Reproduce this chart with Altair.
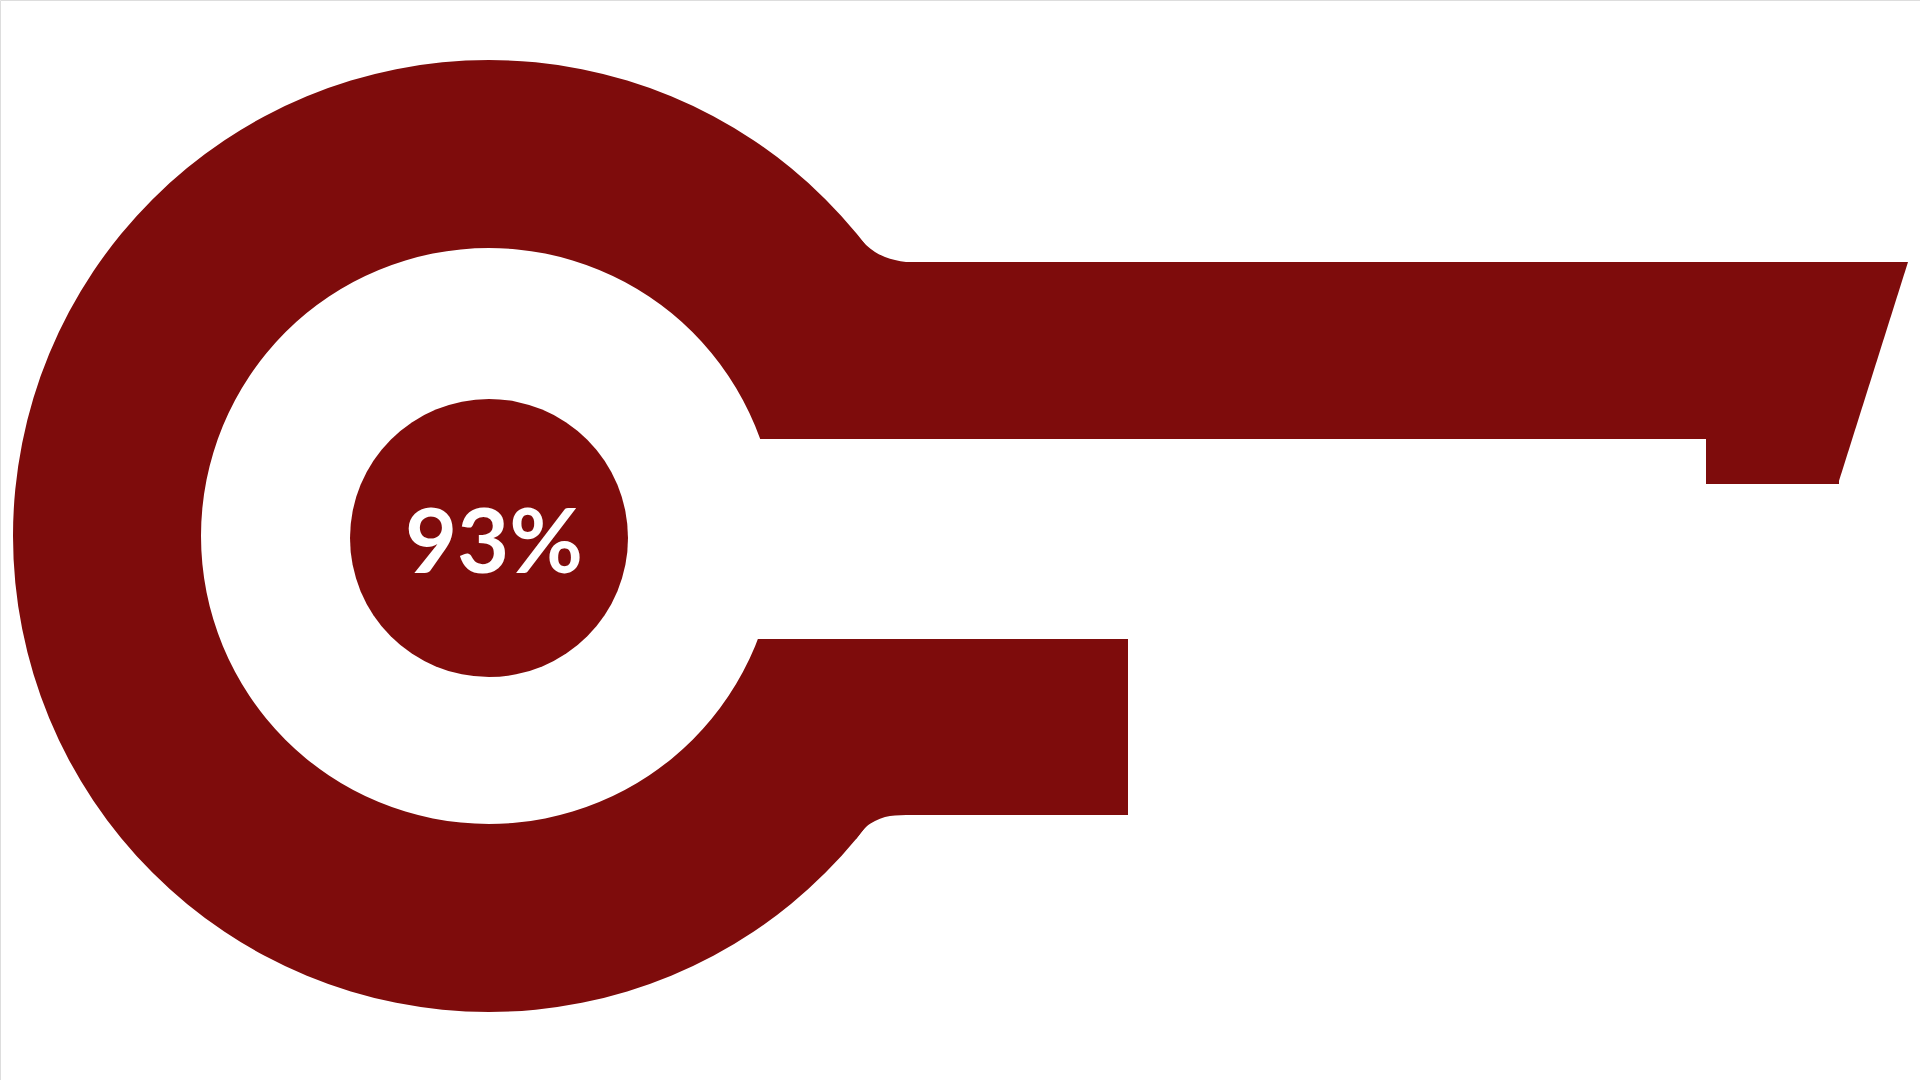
import altair as alt
import pandas as pd

# ---- values (pixel space of a 1920x1080 canvas) ----
VALUE = 93
RING_CENTER_X = [489]
RING_CENTER_Y = [536]
DOT_CENTER_X = [489]
DOT_CENTER_Y = [538]

# gap in the ring between the two arms
GAP_X = [740]
GAP_X2 = [1000]
GAP_Y = [439]
GAP_Y2 = [639]

# upper arm: main body and the stepped block, then the slanted tip
UPPER_RECT_X = [800, 1706]
UPPER_RECT_X2 = [1710, 1839]
UPPER_RECT_Y = [262, 262]
UPPER_RECT_Y2 = [439, 484]
TIP_X = [1838, 1908]
TIP_Y = [262, 262]
TIP_Y2 = [484, 262]

# lower arm
LOWER_X = [800]
LOWER_X2 = [1128]
LOWER_Y = [639]
LOWER_Y2 = [815]

# small fillets where the ring meets the arms
FILLET_TOP_X = [856, 866, 875, 885, 895, 906]
FILLET_TOP_Y = [234, 245, 252, 257, 260, 262]
FILLET_TOP_Y2 = [272, 272, 272, 272, 272, 272]
FILLET_BOT_X = [856, 866, 875, 885, 895, 906]
FILLET_BOT_Y = [839, 827, 821, 817, 815.5, 815]
FILLET_BOT_Y2 = [805, 805, 805, 805, 805, 805]

RED = "#7e0c0c"
W, H = 1920, 1080

xs = alt.Scale(domain=[0, W], nice=False, zero=False)
ys = alt.Scale(domain=[0, H], nice=False, zero=False, reverse=True)


def X(f):
    return alt.X(f, type="quantitative", scale=xs, axis=None)


def Y(f):
    return alt.Y(f, type="quantitative", scale=ys, axis=None)


ring_df = pd.DataFrame({"x": RING_CENTER_X, "y": RING_CENTER_Y})
dot_df = pd.DataFrame({"x": DOT_CENTER_X, "y": DOT_CENTER_Y, "label": [f"{VALUE}%"]})
gap_df = pd.DataFrame({"x": GAP_X, "x2": GAP_X2, "y": GAP_Y, "y2": GAP_Y2})
upper_df = pd.DataFrame({"x": UPPER_RECT_X, "x2": UPPER_RECT_X2,
                         "y": UPPER_RECT_Y, "y2": UPPER_RECT_Y2})
tip_df = pd.DataFrame({"x": TIP_X, "y": TIP_Y, "y2": TIP_Y2})
lower_df = pd.DataFrame({"x": LOWER_X, "x2": LOWER_X2, "y": LOWER_Y, "y2": LOWER_Y2})
ftop_df = pd.DataFrame({"x": FILLET_TOP_X, "y": FILLET_TOP_Y, "y2": FILLET_TOP_Y2})
fbot_df = pd.DataFrame({"x": FILLET_BOT_X, "y": FILLET_BOT_Y, "y2": FILLET_BOT_Y2})

ring = alt.Chart(ring_df).mark_arc(
    radius=476, radius2=288, theta=0, theta2=6.2832, color=RED
).encode(x=X("x"), y=Y("y"))

gap = alt.Chart(gap_df).mark_rect(color="white").encode(
    x=X("x"), x2="x2", y=Y("y"), y2="y2"
)

upper = alt.Chart(upper_df).mark_rect(color=RED).encode(
    x=X("x"), x2="x2", y=Y("y"), y2="y2"
)

tip = alt.Chart(tip_df).mark_area(color=RED).encode(
    x=X("x"), y=Y("y"), y2="y2"
)

lower = alt.Chart(lower_df).mark_rect(color=RED).encode(
    x=X("x"), x2="x2", y=Y("y"), y2="y2"
)

ftop = alt.Chart(ftop_df).mark_area(color=RED, interpolate="monotone").encode(
    x=X("x"), y=Y("y"), y2="y2"
)
fbot = alt.Chart(fbot_df).mark_area(color=RED, interpolate="monotone").encode(
    x=X("x"), y=Y("y"), y2="y2"
)

dot = alt.Chart(dot_df).mark_arc(
    radius=139, theta=0, theta2=6.2832, color="#800c0c"
).encode(x=X("x"), y=Y("y"))

label = alt.Chart(dot_df).mark_text(
    font="Lato", fontSize=90, fontWeight="bold", color="white",
    align="center", baseline="middle", dx=5, dy=8
).encode(x=X("x"), y=Y("y"), text="label:N")

chart = alt.layer(ring, gap, upper, tip, lower, ftop, fbot, dot, label).properties(
    width=W, height=H, padding=0, autosize=alt.AutoSizeParams(type="none")
).configure_view(stroke=None).configure(background="white")

chart.save("out.html", embed_options={"renderer": "svg", "actions": False})
